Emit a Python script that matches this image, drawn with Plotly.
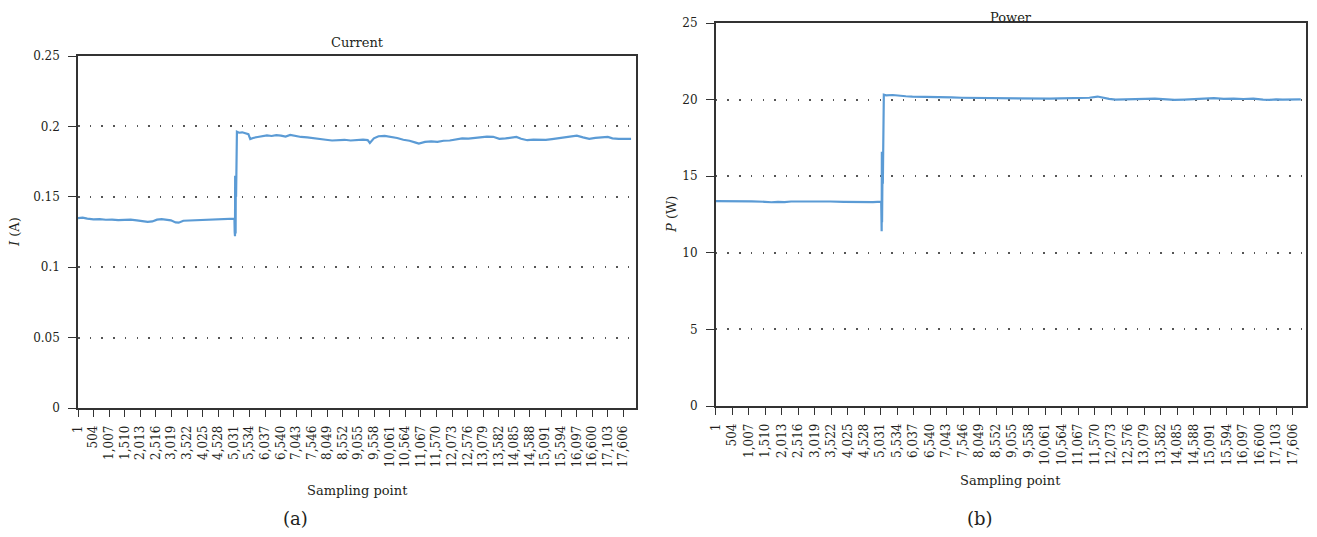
import plotly.graph_objects as go

# ---------------- data ----------------
TICK_LABELS = ["1", "504", "1,007", "1,510", "2,013", "2,516", "3,019", "3,522",
               "4,025", "4,528", "5,031", "5,534", "6,037", "6,540", "7,043",
               "7,546", "8,049", "8,552", "9,055", "9,558", "10,061", "10,564",
               "11,067", "11,570", "12,073", "12,576", "13,079", "13,582",
               "14,085", "14,588", "15,091", "15,594", "16,097", "16,600",
               "17,103", "17,606"]
TICK_VALUES = [int(s.replace(",", "")) for s in TICK_LABELS]

CUR_X = [1, 150, 300, 500, 700, 900, 1100, 1300, 1500, 1700, 1900, 2100, 2250,
         2400, 2550, 2700, 2850, 3000, 3150, 3250, 3400, 3600, 3800, 4000, 4200,
         4400, 4600, 4800, 5000, 5050,
         5058, 5063, 5068, 5073, 5078, 5083, 5088, 5093, 5098, 5103,
         5130, 5200, 5300, 5400, 5500, 5560, 5650, 5800, 5950, 6100, 6250,
         6400, 6550, 6700, 6850, 7000, 7200, 7400, 7600, 7800, 8000, 8200,
         8400, 8600, 8800, 9000, 9200, 9350, 9420, 9550, 9700, 9900, 10100,
         10300, 10500, 10700, 10900, 11000, 11200, 11400, 11600, 11800, 12000,
         12200, 12400, 12600, 12800, 13000, 13200, 13400, 13600, 13800, 14000,
         14150, 14300, 14500, 14700, 14900, 15100, 15300, 15500, 15700, 15900,
         16100, 16300, 16500, 16700, 16900, 17100, 17250, 17450, 17850]
CUR_Y = [0.1348, 0.1352, 0.1345, 0.1340, 0.1342, 0.1337, 0.1338, 0.1334, 0.1336,
         0.1338, 0.1333, 0.1328, 0.1322, 0.1325, 0.1338, 0.1341, 0.1337, 0.1333,
         0.1318, 0.1316, 0.1330, 0.1332, 0.1331, 0.1335, 0.1337, 0.1339, 0.1340,
         0.1340, 0.1342, 0.1345,
         0.1250, 0.1600, 0.1220, 0.1650, 0.1280, 0.1620, 0.1240, 0.1580, 0.1300,
         0.1500,
         0.1962, 0.1955, 0.1958, 0.1950, 0.1945, 0.1910, 0.1918, 0.1925, 0.1930,
         0.1936, 0.1932, 0.1938, 0.1935, 0.1928, 0.1940, 0.1932, 0.1925, 0.1922,
         0.1915, 0.1912, 0.1905, 0.1900, 0.1903, 0.1905, 0.1900, 0.1905, 0.1906,
         0.1903, 0.1882, 0.1915, 0.1930, 0.1933, 0.1928, 0.1918, 0.1905, 0.1898,
         0.1885, 0.1878, 0.1890, 0.1893, 0.1890, 0.1898, 0.1900, 0.1910, 0.1915,
         0.1913, 0.1918, 0.1922, 0.1928, 0.1926, 0.1912, 0.1915, 0.1920, 0.1925,
         0.1912, 0.1902, 0.1906, 0.1903, 0.1905, 0.1910, 0.1915, 0.1920, 0.1928,
         0.1934, 0.1922, 0.1912, 0.1918, 0.1920, 0.1925, 0.1915, 0.1912, 0.1912]

POW_X = [1, 300, 700, 1100, 1500, 1700, 1900, 2100, 2300, 2700, 3100, 3500, 3900,
         4300, 4500, 4800, 5050,
         5058, 5064, 5070, 5076, 5082, 5088, 5094, 5100,
         5130, 5200, 5400, 5600, 5800, 6000, 6300, 6600, 6900, 7200, 7500, 7800,
         8100, 8400, 8700, 9000, 9300, 9600, 9900, 10200, 10500, 10800, 11100,
         11400, 11650, 11800, 12000, 12200, 12500, 12800, 13100, 13400, 13700,
         14000, 14300, 14600, 14900, 15200, 15500, 15800, 16100, 16400, 16700,
         16900, 17100, 17300, 17850]
POW_Y = [13.37, 13.38, 13.36, 13.36, 13.33, 13.30, 13.32, 13.31, 13.35, 13.36,
         13.34, 13.35, 13.33, 13.30, 13.32, 13.31, 13.34,
         16.40, 11.40, 16.60, 12.00, 16.20, 13.00, 16.50, 14.50,
         20.32, 20.28, 20.30, 20.25, 20.22, 20.20, 20.19, 20.20, 20.16, 20.14,
         20.12, 20.11, 20.10, 20.09, 20.10, 20.08, 20.09, 20.08, 20.07, 20.06,
         20.08, 20.10, 20.08, 20.12, 20.20, 20.12, 20.05, 20.00, 20.03, 20.06,
         20.05, 20.06, 20.03, 19.98, 20.00, 20.03, 20.06, 20.10, 20.05, 20.07,
         20.04, 20.06, 20.00, 19.98, 20.02, 20.00, 20.02]

X_MAX = 18000
LINE_COLOR = "#5B9BD5"
FONT = "DejaVu Serif"
TXT = "#231f20"

# page body has an 8px margin: figure is drawn 8px in from the window edge
OFF = 8
W, H = 1317 - 2 * OFF, 537 - 2 * OFF


def px_x(px):
    return (px - OFF) / W


def px_y(py):
    return 1 - (py - OFF) / H


fig = go.Figure()
fig.add_trace(go.Scatter(x=CUR_X, y=CUR_Y, mode="lines",
                         line=dict(color=LINE_COLOR, width=2.2),
                         xaxis="x", yaxis="y", showlegend=False))
fig.add_trace(go.Scatter(x=POW_X, y=POW_Y, mode="lines",
                         line=dict(color=LINE_COLOR, width=2.2),
                         xaxis="x2", yaxis="y2", showlegend=False))

xcommon = dict(range=[1, X_MAX], tickmode="array", tickvals=TICK_VALUES,
               ticktext=TICK_LABELS, tickangle=-90, ticks="outside", ticklen=7,
               tickwidth=1.3, tickcolor="#333", showline=True, linecolor="#333",
               linewidth=1.5, mirror=True, showgrid=False, zeroline=False,
               ticklabelstandoff=4, automargin=False,
               tickfont=dict(family=FONT, size=12, color=TXT))
ycommon = dict(ticks="outside", ticklen=8, tickwidth=1.3, tickcolor="#333",
               showline=True, linecolor="#333", linewidth=1.5, mirror=True,
               showgrid=True, gridcolor="#555", gridwidth=1.5,
               griddash="1.5px,10.2px", zeroline=False, ticklabelstandoff=6,
               automargin=False,
               tickfont=dict(family=FONT, size=12, color=TXT))

fig.update_layout(
    width=W, height=H, margin=dict(l=0, r=0, t=0, b=0, autoexpand=False),
    paper_bgcolor="white", plot_bgcolor="white",
    xaxis=dict(domain=[px_x(78), px_x(635.7)], anchor="y", **xcommon),
    yaxis=dict(domain=[px_y(408), px_y(56)], anchor="x", range=[0, 0.25],
               dtick=0.05, tick0=0, **ycommon),
    xaxis2=dict(domain=[px_x(715.7), px_x(1305.7)], anchor="y2", **xcommon),
    yaxis2=dict(domain=[px_y(406), px_y(23)], anchor="x2", range=[0, 25],
                dtick=5, tick0=0, **ycommon),
)


def ann(text, x, y, size=13, angle=0, yanchor="middle"):
    fig.add_annotation(text=text, x=px_x(x), y=px_y(y), xref="paper",
                       yref="paper", showarrow=False, xanchor="center",
                       yanchor=yanchor, textangle=angle,
                       font=dict(family=FONT, size=size, color=TXT))


ann("Current", 357, 42)
ann("Power", 1011, 8, yanchor="top")
ann("<i>I</i> (A)", 15, 232, angle=-90)
ann("<i>P</i> (W)", 672, 215, angle=-90)
ann("Sampling point", 357, 490)
ann("Sampling point", 1011, 480)
ann("(a)", 295, 518, size=18)
ann("(b)", 980, 518, size=18)

fig.write_html("out.html")
